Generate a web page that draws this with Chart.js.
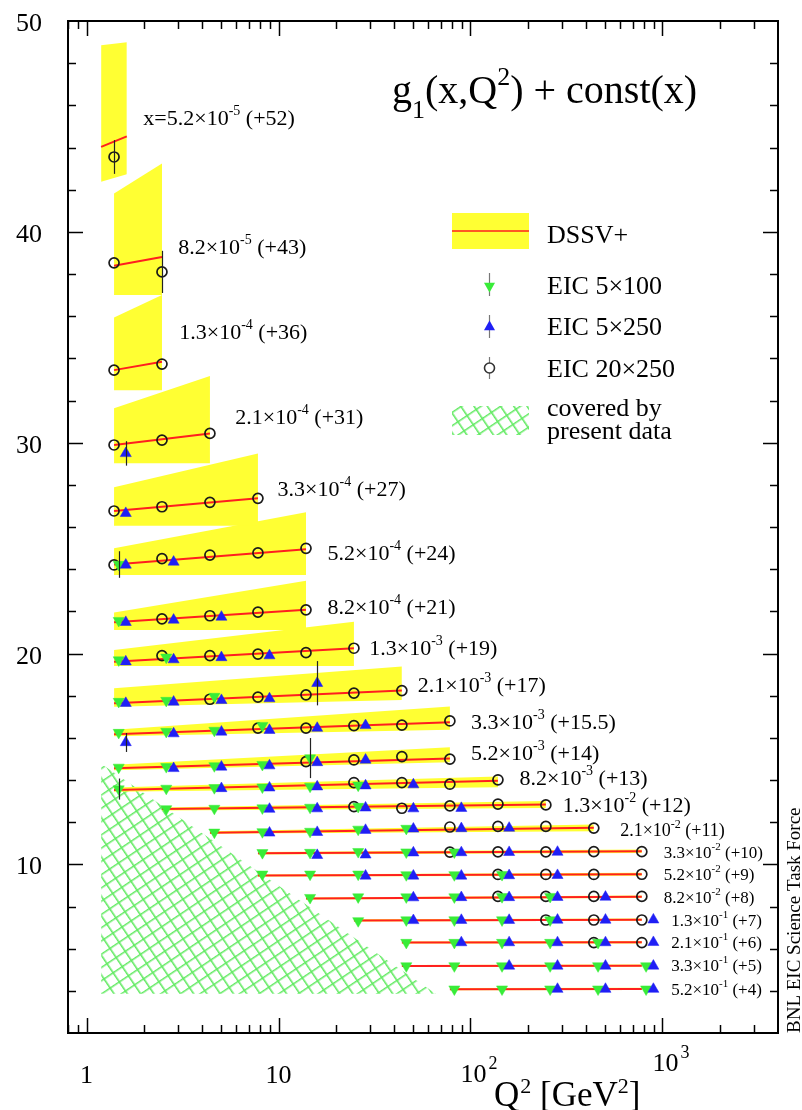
<!DOCTYPE html>
<html>
<head>
<meta charset="utf-8">
<title>g1(x,Q2) + const(x)</title>
<style>
  html, body { margin: 0; padding: 0; background: #fff; }
  canvas { display: block; }
</style>
<script src="https://cdn.jsdelivr.net/npm/chart.js@4.4.1/dist/chart.umd.min.js"></script>
</head>
<body>
<canvas id="g1chart" width="802" height="1110"></canvas>
<script>
const _ = null;

// x bins: mantissa, exponent and the constant added to g1 in each bin
const xMantissa = ['5.2','8.2','1.3','2.1','3.3','5.2','8.2','1.3','2.1','3.3','5.2','8.2','1.3','2.1','3.3','5.2','8.2','1.3','2.1','3.3','5.2'];
const xExponent = ['-5','-5','-4','-4','-4','-4','-4','-3','-3','-3','-3','-3','-2','-2','-2','-2','-2','-1','-1','-1','-1'];
const xShift    = ['+52','+43','+36','+31','+27','+24','+21','+19','+17','+15.5','+14','+13','+12','+11','+10','+9','+8','+7','+6','+5','+4'];

// Q^2 bin centres (GeV^2) of the three EIC configurations
const q2_20x250 = [1.39, 2.47, 4.39, 7.81, 13.9, 24.7, 43.9, 78.1, 139, 247, 439, 781];
const q2_5x100  = [1.47, 2.60, 4.63, 8.24, 14.6, 26.0, 46.3, 82.4, 146, 260, 462, 822];
const q2_5x250  = [1.60, 2.84, 5.04, 8.97, 15.9, 28.4, 50.4, 89.6, 159, 284, 505, 897];

// g1 + const(x), one row per x bin, one column per Q^2 bin
const g1_20x250 = [
  [43.55],
  [38.53, 38.10],
  [33.44, 33.73],
  [29.89, 30.12, 30.44],
  [26.76, 26.96, 27.17, 27.36],
  [24.20, 24.50, 24.67, 24.77, 24.99],
  [_, 21.64, 21.79, 21.96, 22.07],
  [_, 19.90, 19.90, 19.97, 20.04, 20.25],
  [_, _, 17.83, 17.93, 18.04, 18.12, 18.24],
  [_, _, _, 16.46, 16.46, 16.58, 16.60, 16.80],
  [_, _, _, _, 14.87, 14.95, 15.11, 14.99],
  [_, _, _, _, _, 13.88, 13.88, 13.80, 14.01],
  [_, _, _, _, _, 12.74, 12.66, 12.77, 12.86, 12.82],
  [_, _, _, _, _, _, _, 11.77, 11.80, 11.80, 11.72],
  [_, _, _, _, _, _, _, 10.58, 10.59, 10.59, 10.60, 10.60],
  [_, _, _, _, _, _, _, _, 9.52, 9.52, 9.52, 9.53],
  [_, _, _, _, _, _, _, _, 8.48, 8.48, 8.48, 8.48],
  [_, _, _, _, _, _, _, _, _, 7.36, 7.36, 7.36],
  [_, _, _, _, _, _, _, _, _, _, 6.29, 6.29],
  [],
  []
];
const g1_5x100 = [
  [], [], [], [], [],
  [24.22],
  [21.56],
  [19.69, 19.82],
  [17.72, 17.77, 17.96],
  [16.25, 16.30, 16.35, 16.58],
  [14.60, 14.63, 14.67, 14.73, 15.04],
  [13.57, 13.60, 13.63, 13.66, 13.70, 13.75],
  [_, 12.63, 12.65, 12.67, 12.70, 12.74],
  [_, _, 11.52, 11.54, 11.56, 11.66, 11.70],
  [_, _, _, 10.55, 10.56, 10.60, 10.58, 10.58],
  [_, _, _, 9.53, 9.53, 9.53, 9.50, 9.50, 9.51],
  [_, _, _, _, 8.42, 8.45, 8.45, 8.45, 8.46, 8.47],
  [_, _, _, _, _, 7.32, 7.36, 7.36, 7.36, 7.36],
  [_, _, _, _, _, _, 6.29, 6.29, 6.29, 6.29, 6.29],
  [_, _, _, _, _, _, 5.18, 5.18, 5.18, 5.18, 5.18, 5.18],
  [_, _, _, _, _, _, _, 4.08, 4.08, 4.08, 4.08, 4.08]
];
const g1_5x250 = [
  [], [], [],
  [29.49],
  [26.65],
  [24.20, 24.34],
  [21.48, 21.59, 21.73],
  [19.61, 19.71, 19.81, 19.90, 18.59],
  [17.64, 17.70, 17.78, 17.86],
  [15.78, 16.20, 16.28, 16.36, 16.46, 16.59],
  [_, 14.55, 14.62, 14.68, 14.83, 14.95],
  [_, _, 13.60, 13.63, 13.68, 13.73, 13.78],
  [_, _, _, 12.62, 12.64, 12.68, 12.64, 12.66],
  [_, _, _, 11.49, 11.52, 11.62, 11.68, 11.70, 11.72],
  [_, _, _, _, 10.43, 10.45, 10.55, 10.56, 10.57, 10.58],
  [_, _, _, _, _, 9.45, 9.45, 9.45, 9.47, 9.48],
  [_, _, _, _, _, _, 8.42, 8.43, 8.43, 8.44, 8.45],
  [_, _, _, _, _, _, 7.34, 7.35, 7.35, 7.36, 7.36, 7.37],
  [_, _, _, _, _, _, _, 6.29, 6.29, 6.29, 6.29, 6.30],
  [_, _, _, _, _, _, _, _, 5.18, 5.18, 5.18, 5.18],
  [_, _, _, _, _, _, _, _, _, 4.08, 4.08, 4.08]
];

// visible uncertainties: [x bin, Q^2 bin, +/- error]
const err_20x250 = [[0, 0, 0.80], [1, 1, 1.00]];
const err_5x100  = [[5, 0, 0.63], [10, 4, 0.95], [11, 0, 0.50]];
const err_5x250  = [[3, 0, 0.58], [7, 4, 1.05], [9, 0, 0.45]];

// DSSV+ curves: Q^2 range, central value and band edges at both ends
const dssvQ2From = [1.19, 1.39, 1.39, 1.39, 1.39, 1.39, 1.39, 1.39, 1.39, 1.39, 1.39, 1.39, 2.47, 4.39, 7.81, 7.81, 13.9, 24.7, 43.9, 43.9, 78.1];
const dssvQ2To   = [1.62, 2.47, 2.47, 4.39, 7.81, 13.9, 13.9, 24.7, 43.9, 78.1, 78.1, 139, 247, 439, 781, 781, 781, 781, 781, 781, 781];
const dssvCentral = [[44.03,44.53],[38.39,38.81],[33.44,33.84],[29.89,30.44],[26.76,27.36],[24.22,24.95],[21.48,22.07],[19.61,20.25],[17.64,18.24],[16.17,16.74],[14.56,15.02],[13.53,13.97],[12.62,12.84],[11.50,11.74],[10.52,10.62],[9.47,9.53],[8.38,8.46],[7.34,7.37],[6.29,6.30],[5.18,5.19],[4.08,4.09]];
const dssvUpper   = [[48.85,48.99],[41.82,43.24],[35.94,37.00],[31.63,33.16],[27.88,29.49],[24.99,26.70],[21.94,23.45],[20.17,21.51],[18.35,19.38],[16.38,17.49],[14.72,15.55],[13.64,14.17],[12.70,13.00],[11.57,11.89],[10.58,10.70],[9.52,9.60],[8.43,8.52],[7.39,7.43],[6.34,6.36],[5.23,5.25],[4.13,4.15]];
const dssvLower   = [[42.37,42.73],[37.00,37.00],[32.49,32.49],[29.02,29.02],[26.06,26.06],[23.72,23.72],[21.12,21.12],[19.41,19.41],[17.48,17.80],[16.07,16.38],[14.46,14.84],[13.44,13.66],[12.55,12.67],[11.45,11.57],[10.47,10.54],[9.42,9.46],[8.33,8.40],[7.29,7.32],[6.24,6.25],[5.13,5.14],[4.03,4.04]];

// region covered by present data (upper edge, filled down to the floor)
const coveredQ2  = [1.19, 66];
const coveredTop = [14.77, 3.86];
const coveredFloor = 3.86;

// tick labels
const yTickLabels = [10, 20, 30, 40, 50];
const xTickLabels = [[1, '1', ''], [10, '10', ''], [100, '10', '2'], [1000, '10', '3']];

// layout: anchor (Q^2, value) of each bin label
const labelAt = [[1.975,45.39],[3.0,39.30],[3.04,35.26],[5.95,31.23],[9.89,27.79],[18.0,24.75],[18.0,22.22],[29.7,20.26],[53.1,18.51],[100.7,16.77],[100.7,15.30],[180,14.09],[302,12.82],[602,11.56],[1016,10.56],[1016,9.50],[1016,8.41],[1110,7.32],[1110,6.28],[1110,5.19],[1110,4.05]];

const YELLOW = '#ffff33';
const RED = '#ff1f1f';
const GREEN = '#38ec38';
const BLUE = '#1f1ff5';
const HATCH = '#62ea62';
const SERIF = '"Liberation Serif", "Times New Roman", Times, serif';

function font(s) { return s + 'px ' + SERIF; }

function makeHatch() {
  const s = 11;
  const c = document.createElement('canvas');
  c.width = s; c.height = s;
  const g = c.getContext('2d');
  g.strokeStyle = HATCH;
  g.lineWidth = 1.6;
  g.beginPath();
  g.moveTo(0, 0.8); g.lineTo(s, 0.8);
  g.moveTo(0.8, 0); g.lineTo(0.8, s);
  g.stroke();
  const p = document.createElement('canvas').getContext('2d').createPattern(c, 'repeat');
  p.setTransform(new DOMMatrix().rotate(-34));
  return p;
}
const hatchPattern = makeHatch();

function pointsOf(q2, rows, errs) {
  const out = [];
  rows.forEach((row, b) => row.forEach((v, i) => {
    if (v === null || v === undefined) return;
    const e = errs.find(r => r[0] === b && r[1] === i);
    out.push({ x: q2[i], y: v, err: e ? e[2] : 0 });
  }));
  return out;
}

const datasets = [];

datasets.push({
  label: 'covered by present data',
  data: coveredQ2.map((q, i) => ({ x: q, y: coveredTop[i] })),
  fill: { value: coveredFloor },
  backgroundColor: hatchPattern,
  borderColor: 'rgba(0,0,0,0)', borderWidth: 0, pointRadius: 0, order: 100
});

dssvCentral.forEach((c, b) => {
  const a = dssvQ2From[b], z = dssvQ2To[b];
  datasets.push({
    label: 'DSSV+ band', data: [{ x: a, y: dssvUpper[b][0] }, { x: z, y: dssvUpper[b][1] }],
    fill: '+1', backgroundColor: YELLOW, borderColor: 'rgba(0,0,0,0)', borderWidth: 0, pointRadius: 0, order: 90
  });
  datasets.push({
    label: 'DSSV+ band', data: [{ x: a, y: dssvLower[b][0] }, { x: z, y: dssvLower[b][1] }],
    fill: false, borderColor: 'rgba(0,0,0,0)', borderWidth: 0, pointRadius: 0, order: 90
  });
  datasets.push({
    label: 'DSSV+', data: [{ x: a, y: c[0] }, { x: z, y: c[1] }],
    fill: false, borderColor: RED, borderWidth: 2, pointRadius: 0, order: 80
  });
});

datasets.push({
  label: 'EIC 20×250', data: pointsOf(q2_20x250, g1_20x250, err_20x250), showLine: false, errorBars: true,
  pointStyle: 'circle', pointRadius: 5, pointBorderWidth: 1.7, pointBorderColor: '#1a1a1a',
  pointBackgroundColor: 'rgba(0,0,0,0)', order: 30
});
datasets.push({
  label: 'EIC 5×100', data: pointsOf(q2_5x100, g1_5x100, err_5x100), showLine: false, errorBars: true,
  pointStyle: 'triangle', pointRotation: 180, pointRadius: 6.4, pointBorderWidth: 0.5,
  pointBorderColor: GREEN, pointBackgroundColor: GREEN, order: 20
});
datasets.push({
  label: 'EIC 5×250', data: pointsOf(q2_5x250, g1_5x250, err_5x250), showLine: false, errorBars: true,
  pointStyle: 'triangle', pointRotation: 0, pointRadius: 6.4, pointBorderWidth: 0.5,
  pointBorderColor: BLUE, pointBackgroundColor: BLUE, order: 10
});

function richWidth(ctx, parts) {
  let w = 0;
  for (const p of parts) { ctx.font = font(p.s); w += ctx.measureText(p.t).width; }
  return w;
}
function drawRich(ctx, x, y, parts, align) {
  let cx = x;
  if (align === 'center') cx -= richWidth(ctx, parts) / 2;
  for (const p of parts) {
    ctx.font = font(p.s);
    ctx.fillText(p.t, cx + (p.dx || 0), y + (p.dy || 0));
    cx += ctx.measureText(p.t).width + (p.dx || 0);
  }
}

const errorBarPlugin = {
  id: 'errorBars',
  afterDatasetDraw(chart, args) {
    const ds = chart.data.datasets[args.index];
    if (!ds.errorBars) return;
    const { ctx, scales: { x, y } } = chart;
    ctx.save();
    ctx.strokeStyle = '#222';
    ctx.lineWidth = 1.2;
    ds.data.forEach(p => {
      if (!p.err) return;
      const px = Math.round(x.getPixelForValue(p.x)) + 0.5;
      ctx.beginPath();
      ctx.moveTo(px, y.getPixelForValue(p.y + p.err));
      ctx.lineTo(px, y.getPixelForValue(p.y - p.err));
      ctx.stroke();
    });
    ctx.restore();
  }
};

const framePlugin = {
  id: 'frame',
  afterDraw(chart) {
    const { ctx, chartArea: ca, scales: { x: xs, y: ys } } = chart;
    ctx.save();
    ctx.strokeStyle = '#000';
    ctx.lineWidth = 2;
    ctx.strokeRect(ca.left, ca.top, ca.right - ca.left, ca.bottom - ca.top);
    ctx.lineWidth = 1.5;
    const seg = (x1, y1, x2, y2) => { ctx.beginPath(); ctx.moveTo(x1, y1); ctx.lineTo(x2, y2); ctx.stroke(); };
    for (let e = -1; e <= 3; e++) {
      for (let m = 1; m <= 9; m++) {
        const v = m * Math.pow(10, e);
        if (v < xs.min || v >= xs.max) continue;
        const px = Math.round(xs.getPixelForValue(v)) + 0.5;
        const L = m === 1 ? 15 : 8;
        seg(px, ca.bottom, px, ca.bottom - L);
        seg(px, ca.top, px, ca.top + L);
      }
    }
    for (let v = ys.min + 2; v < ys.max; v += 2) {
      const py = Math.round(ys.getPixelForValue(v)) + 0.5;
      const L = v % 10 === 0 ? 15 : 8;
      seg(ca.left, py, ca.left + L, py);
      seg(ca.right, py, ca.right - L, py);
    }

    ctx.fillStyle = '#000';
    ctx.textBaseline = 'alphabetic';
    // y tick labels
    ctx.textAlign = 'right';
    ctx.font = font(26);
    yTickLabels.forEach(v => ctx.fillText(String(v), ca.left - 26, ys.getPixelForValue(v) + 10));
    // x tick labels
    ctx.textAlign = 'left';
    xTickLabels.forEach(([v, base, sup]) => {
      const px = xs.getPixelForValue(v);
      if (!sup) {
        drawRich(ctx, px, ca.bottom + 50, [{ t: base, s: 26 }], 'center');
      } else {
        ctx.font = font(26);
        const w = ctx.measureText(base).width;
        const lift = v === 1000 ? 11 : 0;
        drawRich(ctx, px + 3 - w / 2, ca.bottom + 49 - lift, [{ t: base, s: 26 }, { t: sup, s: 18, dx: 2, dy: -13 }]);
      }
    });
    // axis title
    drawRich(ctx, 494, 1106, [{ t: 'Q', s: 35 }, { t: '2', s: 22, dx: 1, dy: -13 }, { t: ' [GeV', s: 35 }, { t: '2', s: 22, dy: -13 }, { t: ']', s: 35 }]);

    // plot title
    drawRich(ctx, 392, 103, [
      { t: 'g', s: 40 }, { t: '1', s: 26, dy: 15 }, { t: '(x,Q', s: 40 },
      { t: '2', s: 26, dy: -18 }, { t: ') + const(x)', s: 40 }
    ]);

    // bin labels
    xMantissa.forEach((m, b) => {
      const S = b < 13 ? 22 : (b === 13 ? 18 : 17);
      const px = xs.getPixelForValue(labelAt[b][0]);
      const py = ys.getPixelForValue(labelAt[b][1]) + Math.round(S * 0.3);
      drawRich(ctx, px, py, [
        { t: (b === 0 ? 'x=' : '') + m + '×10', s: S },
        { t: xExponent[b], s: Math.round(S * 0.65), dy: -Math.round(S * 0.45) },
        { t: ' (' + xShift[b] + ')', s: S }
      ]);
    });

    // legend
    ctx.fillStyle = YELLOW;
    ctx.fillRect(452, 213, 77, 36);
    ctx.strokeStyle = RED; ctx.lineWidth = 1.6;
    seg(452, 231, 529, 231);
    ctx.save();
    ctx.beginPath(); ctx.rect(452, 406, 77, 29); ctx.clip();
    ctx.fillStyle = hatchPattern; ctx.fillRect(452, 406, 77, 29);
    ctx.restore();
    ctx.strokeStyle = '#777'; ctx.lineWidth = 1.2;
    seg(489.5, 273, 489.5, 296);
    seg(489.5, 315, 489.5, 338);
    seg(489.5, 357, 489.5, 379);
    const tri = (cx, cy, r, down, col) => {
      ctx.fillStyle = col; ctx.beginPath();
      const s = down ? -1 : 1;
      ctx.moveTo(cx, cy - s * r);
      ctx.lineTo(cx + r * 0.866, cy + s * r * 0.5);
      ctx.lineTo(cx - r * 0.866, cy + s * r * 0.5);
      ctx.closePath(); ctx.fill();
    };
    tri(489.5, 286, 6.4, true, GREEN);
    tri(489.5, 327, 6.4, false, BLUE);
    ctx.fillStyle = '#fff'; ctx.strokeStyle = '#333'; ctx.lineWidth = 1.6;
    ctx.beginPath(); ctx.arc(489.5, 368, 5, 0, Math.PI * 2); ctx.fill(); ctx.stroke();
    ctx.fillStyle = '#000';
    ctx.font = font(26);
    ctx.fillText('DSSV+', 547, 243);
    ctx.fillText('EIC 5×100', 547, 294);
    ctx.fillText('EIC 5×250', 547, 335);
    ctx.fillText('EIC 20×250', 547, 377);
    ctx.fillText('covered by', 547, 416);
    ctx.fillText('present data', 547, 439);

    // side credit
    ctx.save();
    ctx.translate(800, ca.bottom);
    ctx.rotate(-Math.PI / 2);
    ctx.font = font(19);
    ctx.fillText('BNL EIC Science Task Force', 0, 0);
    ctx.restore();
    ctx.restore();
  }
};

new Chart(document.getElementById('g1chart'), {
  type: 'line',
  data: { datasets },
  options: {
    responsive: false,
    maintainAspectRatio: false,
    devicePixelRatio: 1,
    animation: false,
    events: [],
    layout: { padding: { left: 68, right: 24, top: 21, bottom: 77 } },
    plugins: { legend: { display: false }, tooltip: { enabled: false }, title: { display: false } },
    elements: { line: { tension: 0 } },
    scales: {
      x: { type: 'logarithmic', min: 0.8, max: 4000, display: false },
      y: { type: 'linear', min: 2, max: 50, display: false }
    }
  },
  plugins: [errorBarPlugin, framePlugin]
});
</script>
</body>
</html>
